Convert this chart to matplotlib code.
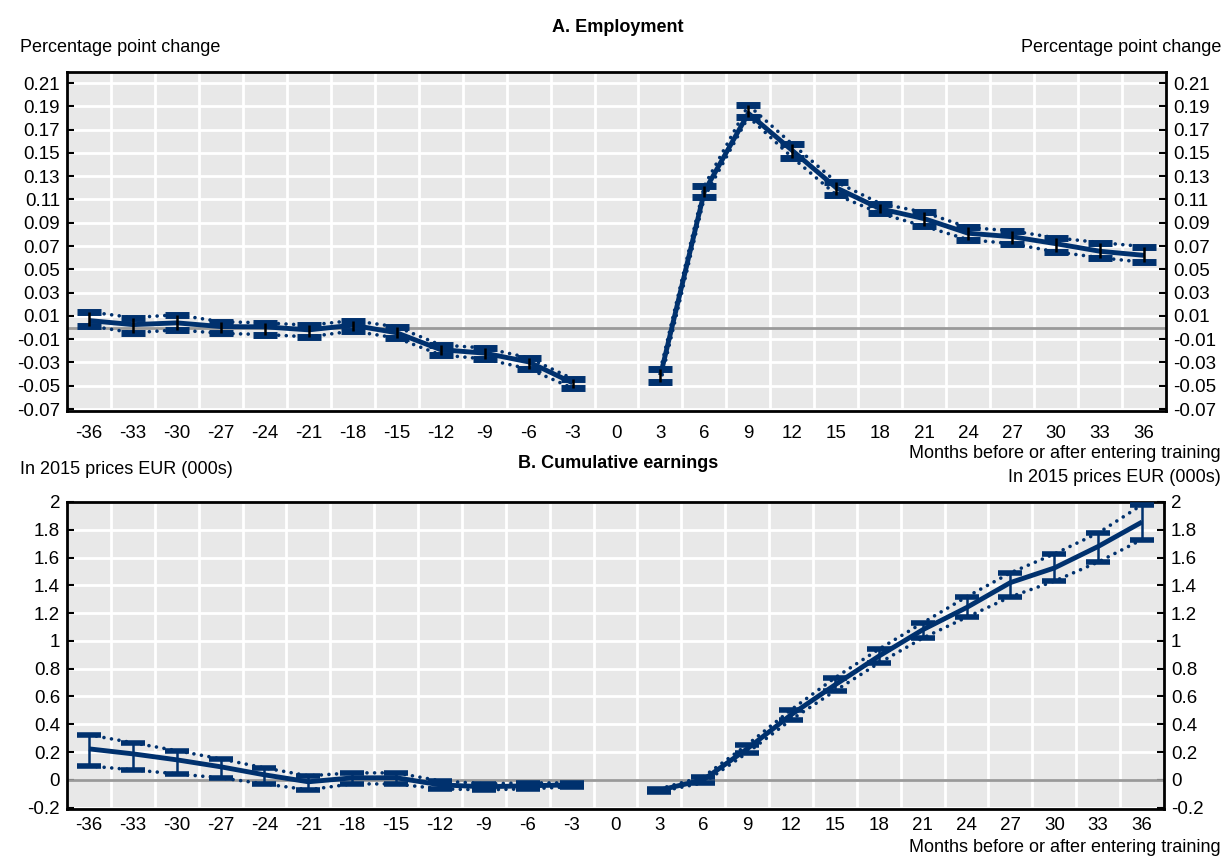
import numpy as np
import matplotlib.pyplot as plt

plt.rcParams['font.family'] = ['Liberation Sans', 'DejaVu Sans']

months = [-36, -33, -30, -27, -24, -21, -18, -15, -12, -9, -6, -3,
          3, 6, 9, 12, 15, 18, 21, 24, 27, 30, 33, 36]

# Panel A: employment effect (percentage point change)
emp = [0.006, 0.0025, 0.004, 0.0008, 0.0006, -0.002, 0.002, -0.0045, -0.019, -0.022, -0.0295, -0.0475,
       -0.041, 0.117, 0.184, 0.152, 0.120, 0.102, 0.0935, 0.081, 0.078, 0.072, 0.0655, 0.062]
emp_hi = [0.0135, 0.0085, 0.011, 0.005, 0.004, 0.002, 0.006, 0.0006, -0.015, -0.0175, -0.026, -0.044,
          -0.036, 0.122, 0.191, 0.1575, 0.125, 0.1065, 0.099, 0.086, 0.083, 0.077, 0.073, 0.0695]
emp_lo = [0.0015, -0.0045, -0.002, -0.005, -0.006, -0.008, -0.003, -0.009, -0.0235, -0.027, -0.0355, -0.052,
          -0.047, 0.112, 0.181, 0.146, 0.114, 0.098, 0.087, 0.0755, 0.072, 0.065, 0.060, 0.056]

# Panel B: cumulative earnings effect (EUR 000s, 2015 prices)
earn = [0.223, 0.187, 0.144, 0.094, 0.036, -0.014, 0.014, 0.015, -0.036, -0.05, -0.043, -0.036,
        -0.075, 0.0, 0.223, 0.468, 0.683, 0.89, 1.08, 1.24, 1.42, 1.525, 1.68, 1.856]
earn_hi = [0.324, 0.267, 0.21, 0.151, 0.086, 0.029, 0.05, 0.05, -0.007, -0.029, -0.022, -0.022,
           -0.065, 0.022, 0.252, 0.504, 0.734, 0.94, 1.13, 1.317, 1.49, 1.626, 1.777, 1.98]
earn_lo = [0.10, 0.072, 0.043, 0.014, -0.029, -0.072, -0.029, -0.03, -0.065, -0.072, -0.065, -0.05,
           -0.085, -0.022, 0.194, 0.432, 0.64, 0.84, 1.02, 1.17, 1.317, 1.43, 1.568, 1.73]

emp_ticks = [-0.07, -0.05, -0.03, -0.01, 0.01, 0.03, 0.05, 0.07, 0.09, 0.11, 0.13, 0.15, 0.17, 0.19, 0.21]
emp_labels = ["-0.07", "-0.05", "-0.03", "-0.01", "0.01", "0.03", "0.05", "0.07", "0.09",
              "0.11", "0.13", "0.15", "0.17", "0.19", "0.21"]
earn_ticks = [-0.2, 0, 0.2, 0.4, 0.6, 0.8, 1, 1.2, 1.4, 1.6, 1.8, 2]
earn_labels = ["-0.2", "0", "0.2", "0.4", "0.6", "0.8", "1", "1.2", "1.4", "1.6", "1.8", "2"]
xticks = list(range(-36, 37, 3))

navy = "#00316E"
bg = "#E8E8E8"

fig = plt.figure(figsize=(12.23, 8.58), dpi=100)
axA = fig.add_axes([67 / 1223, 1 - 411 / 858, 1099 / 1223, 339 / 858])
axB = fig.add_axes([67 / 1223, 1 - 809 / 858, 1097 / 1223, 307 / 858])


def draw_panel(ax, y, hi, lo, bar_col, cap_w, xpad):
    x = np.array(months)
    y, hi, lo = np.array(y), np.array(hi), np.array(lo)
    ax.set_facecolor(bg)
    for seg in (x < 0, x > 0):
        # dotted confidence bounds and the point estimate, broken at month 0
        ax.plot(x[seg], hi[seg], color=navy, lw=2.6, ls=(0, (0.01, 2.1)), dash_capstyle="round", zorder=3)
        ax.plot(x[seg], lo[seg], color=navy, lw=2.6, ls=(0, (0.01, 2.1)), dash_capstyle="round", zorder=3)
        ax.plot(x[seg], y[seg], color=navy, lw=3.5, solid_capstyle="butt", zorder=4)
    ax.plot(x, hi, ls="none", marker="_", ms=17, mew=cap_w, color=navy, zorder=5)
    ax.plot(x, lo, ls="none", marker="_", ms=17, mew=cap_w, color=navy, zorder=5)
    ax.vlines(x, lo, hi, color=bar_col, lw=1.8, zorder=6)
    ax.axhline(0, color="#999999", lw=2, zorder=2)
    ax.set_xlim(-37.5, 37.5)
    ax.set_xticks(xticks)
    ax.set_xticklabels([str(v) for v in xticks])
    for gx in np.arange(-34.5, 36, 3):
        ax.axvline(gx, color="white", lw=2, zorder=1)
    for sp in ax.spines.values():
        sp.set_linewidth(2)
        sp.set_color("black")
    ax.tick_params(axis="x", length=0, labelsize=13.5, pad=xpad)
    ax.tick_params(axis="y", direction="in", length=5, width=1.5, labelsize=13.5,
                   left=True, right=True, labelleft=True, labelright=True, pad=5)


draw_panel(axA, emp, emp_hi, emp_lo, "black", 5, 10)
axA.set_ylim(-0.0717, 0.2195)
axA.set_yticks(emp_ticks)
axA.set_yticklabels(emp_labels)
for t in emp_ticks:
    axA.axhline(t, color="white", lw=2, zorder=1)

draw_panel(axB, earn, earn_hi, earn_lo, navy, 4, 6)
axB.set_ylim(-0.21, 2.0)
axB.set_yticks(earn_ticks)
axB.set_yticklabels(earn_labels)
for t in earn_ticks:
    axB.axhline(t, color="white", lw=2, zorder=1)

fs = 13
fig.text(618 / 1223, 1 - 27 / 858, "A. Employment", ha="center", va="center", fontsize=fs, fontweight="bold")
fig.text(20 / 1223, 1 - 47 / 858, "Percentage point change", ha="left", va="center", fontsize=fs)
fig.text(1221 / 1223, 1 - 47 / 858, "Percentage point change", ha="right", va="center", fontsize=fs)
fig.text(1221 / 1223, 1 - 453 / 858, "Months before or after entering training", ha="right", va="center", fontsize=fs)
fig.text(618 / 1223, 1 - 463 / 858, "B. Cumulative earnings", ha="center", va="center", fontsize=fs, fontweight="bold")
fig.text(20 / 1223, 1 - 470 / 858, "In 2015 prices EUR (000s)", ha="left", va="center", fontsize=fs)
fig.text(1221 / 1223, 1 - 477 / 858, "In 2015 prices EUR (000s)", ha="right", va="center", fontsize=fs)
fig.text(1221 / 1223, 1 - 848 / 858, "Months before or after entering training", ha="right", va="center", fontsize=fs)

fig.savefig("out.png", dpi=100)
